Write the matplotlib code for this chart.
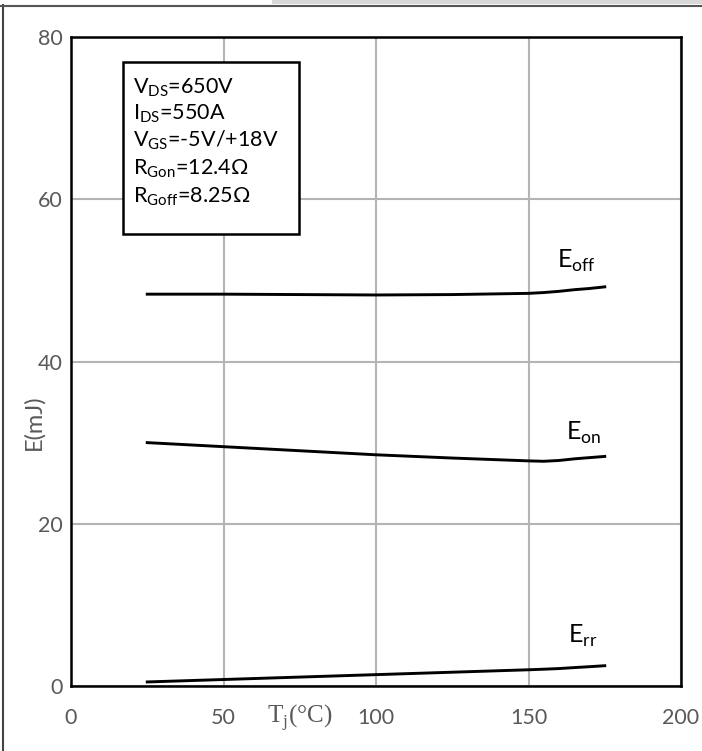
import matplotlib
matplotlib.use("Agg")
import matplotlib.pyplot as plt
from matplotlib.lines import Line2D
from matplotlib.patches import Rectangle

# Data
tj = [25, 50, 75, 100, 125, 150, 155, 160, 165, 170, 175]
e_off = [48.3, 48.3, 48.25, 48.2, 48.25, 48.4, 48.5, 48.65, 48.85, 49.0, 49.2]
e_on = [30.0, 29.5, 29.0, 28.5, 28.1, 27.75, 27.7, 27.8, 28.0, 28.15, 28.3]
e_rr = [0.5, 0.8, 1.1, 1.4, 1.7, 2.0, 2.07, 2.15, 2.27, 2.38, 2.5]

x_ticks = [0, 50, 100, 150, 200]
y_ticks = [0, 20, 40, 60, 80]
curve_labels = [("E", "off", 159.3, 51.5), ("E", "on", 162.3, 30.3), ("E", "rr", 163.0, 5.3)]
info_lines = [r"V$_{\mathregular{DS}}$=650V", r"I$_{\mathregular{DS}}$=550A",
              r"V$_{\mathregular{GS}}$=-5V/+18V", r"R$_{\mathregular{Gon}}$=12.4Ω",
              r"R$_{\mathregular{Goff}}$=8.25Ω"]

plt.rcParams['font.family'] = ['Lato', 'DejaVu Sans']
plt.rcParams['mathtext.fontset'] = 'custom'
plt.rcParams['mathtext.rm'] = 'Lato'

W, H = 702, 751
fig = plt.figure(figsize=(W / 100, H / 100), dpi=100)
ax = fig.add_axes([71 / W, 1 - 686 / H, 610 / W, 649 / H])

for yv in (e_off, e_on, e_rr):
    ax.plot(tj, yv, color='black', lw=2.1, zorder=3, solid_joinstyle='round')

ax.set_xlim(0, 200)
ax.set_ylim(0, 80)
ax.set_xticks(x_ticks)
ax.set_yticks(y_ticks)
ax.grid(True, color='#b4b4b4', lw=1.5, zorder=0)
ax.tick_params(length=0, labelsize=15.5, labelcolor='#595959')
ax.tick_params(axis='x', pad=16)
ax.tick_params(axis='y', pad=6)
for s in ax.spines.values():
    s.set_linewidth(1.8)
    s.set_color('black')

ax.set_ylabel("E(mJ)", fontsize=17, color='#595959')
ax.yaxis.set_label_coords(-0.043, 0.407)

for base, sub, xv, yv in curve_labels:
    ax.text(xv, yv, base + r"$_{\mathregular{" + sub + "}}$", fontsize=18,
            ha='left', va='baseline', color='black', zorder=4)

# x-axis label placed between ticks
ax.text(75, -3.9, r"T$_{\mathregular{j}}$(°C)", fontsize=18, ha='center', va='center',
        color='#595959', family=['Liberation Serif', 'DejaVu Serif'],
        clip_on=False)

# info box
box = Rectangle((123 / W, 1 - 234 / H), (299 - 123) / W, (234 - 62) / H,
                transform=fig.transFigure, facecolor='white', edgecolor='black',
                lw=1.8, zorder=5)
fig.patches.append(box)
ys = [93, 119, 146, 174, 202]
for t, yp in zip(info_lines, ys):
    fig.text(133 / W, 1 - yp / H, t, fontsize=15.5, ha='left', va='baseline',
             color='black', zorder=6)

# figure frame decoration
fig.add_artist(Line2D([3 / W, 3 / W], [0, 1 - 5 / H], transform=fig.transFigure,
                      color='#444444', lw=1.5))
fig.add_artist(Line2D([0, 1], [1 - 5.5 / H, 1 - 5.5 / H], transform=fig.transFigure,
                      color='#555555', lw=1.5))
fig.patches.append(Rectangle((272 / W, 1 - 4 / H), (W - 272) / W, 4 / H,
                             transform=fig.transFigure, facecolor='#d8d8d8',
                             edgecolor='none'))

fig.savefig("out.png", dpi=100)
